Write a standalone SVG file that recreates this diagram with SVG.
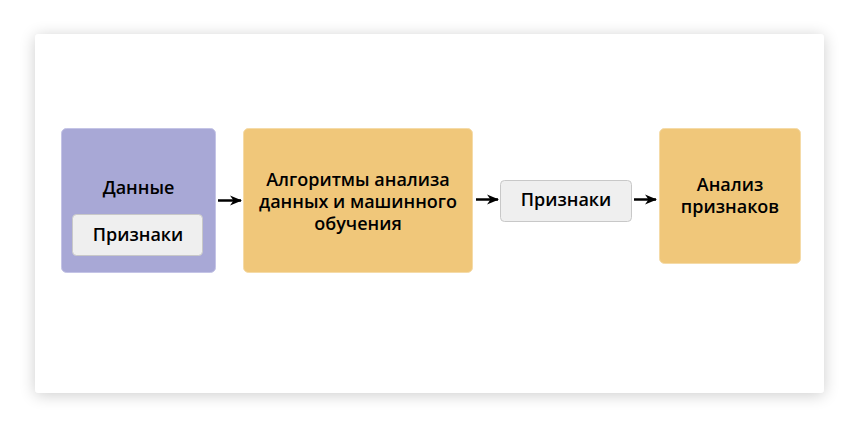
<svg xmlns="http://www.w3.org/2000/svg" width="859" height="430" viewBox="0 0 859 430">
<defs>
<filter id="sh" x="-10%" y="-15%" width="120%" height="130%">
<feGaussianBlur in="SourceAlpha" stdDeviation="8"/>
<feOffset dx="0" dy="2"/>
<feComponentTransfer><feFuncA type="linear" slope="0.2"/></feComponentTransfer>
<feMerge><feMergeNode/><feMergeNode in="SourceGraphic"/></feMerge>
</filter>
<marker id="ah" markerWidth="12" markerHeight="12" refX="11" refY="6" orient="auto" markerUnits="userSpaceOnUse">
<path d="M0,1 L12,6 L0,11 L3.5,6 Z" fill="#000"/>
</marker>
<style>
.t{font-family:"Open Sans","Noto Sans",sans-serif;font-weight:600;font-size:18px;fill:#000;text-anchor:middle}
.pur{fill:#a8a8d6;stroke:#c4c4e6;stroke-width:1}
.org{fill:#f0c77a;stroke:#f5dba8;stroke-width:1}
.gr{fill:#efefef;stroke:#c8c8c8;stroke-width:1}
.c{stroke:#000;stroke-width:2.5;fill:none;marker-end:url(#ah)}
</style>
</defs>
<rect width="859" height="430" fill="#ffffff"/>
<rect x="35" y="34" width="789" height="359" rx="4" fill="#fff" filter="url(#sh)"/>
<g id="data">
<rect class="pur" x="61.5" y="128.5" width="154" height="144" rx="5"/>
<text class="t" x="138.5" y="194">Данные</text>
</g>
<g id="features-inner">
<rect class="gr" x="72.5" y="214.5" width="130" height="41" rx="4"/>
<text class="t" x="138" y="241">Признаки</text>
</g>
<g id="algorithms">
<rect class="org" x="243.5" y="128.5" width="229" height="144" rx="5"/>
<text class="t" x="358" y="185.5">Алгоритмы анализа</text>
<text class="t" x="358" y="207.5">данных и машинного</text>
<text class="t" x="358" y="229.5">обучения</text>
</g>
<g id="features">
<rect class="gr" x="500.5" y="180.5" width="131" height="41" rx="4"/>
<text class="t" x="566" y="206">Признаки</text>
</g>
<g id="analysis">
<rect class="org" x="659.5" y="128.5" width="141" height="135" rx="5"/>
<text class="t" x="730" y="190.5">Анализ</text>
<text class="t" x="730" y="212.5">признаков</text>
</g>
<g id="connectors">
<line class="c" x1="218" y1="200.5" x2="241" y2="200.5"/>
<line class="c" x1="476" y1="199.5" x2="498" y2="199.5"/>
<line class="c" x1="634" y1="199.5" x2="656" y2="199.5"/>
</g>
</svg>
